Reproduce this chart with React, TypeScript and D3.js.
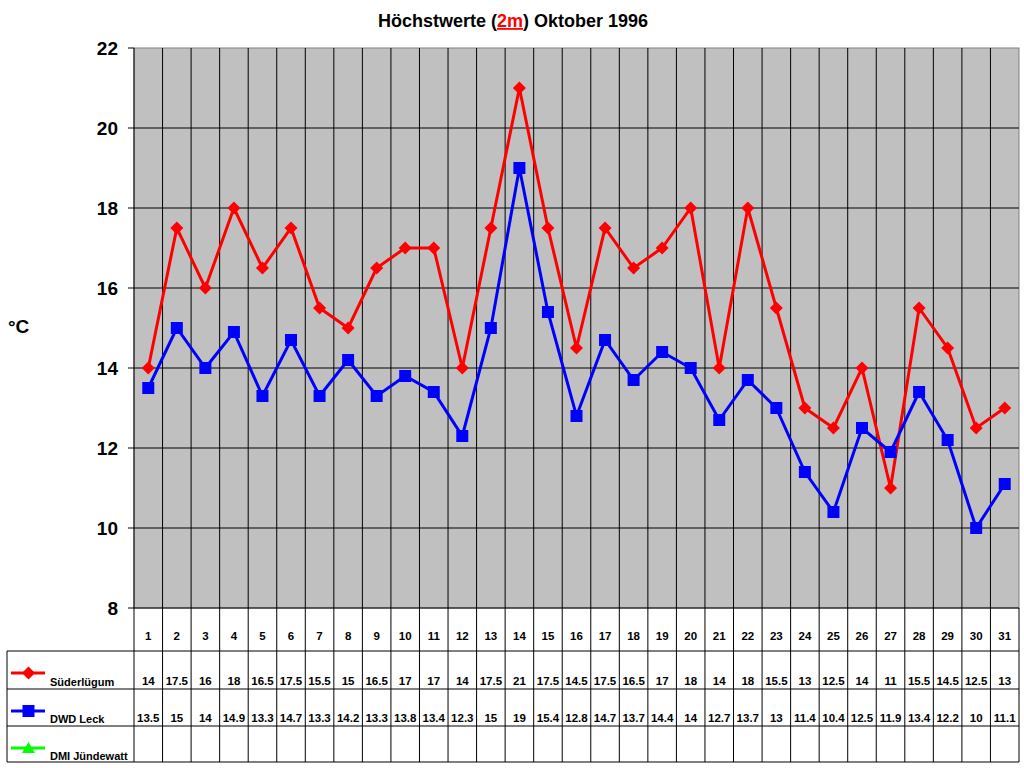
import React from "react";
import * as d3 from "d3";

const days = Array.from({ length: 31 }, (_, i) => String(i + 1));
const suederluegum = [14, 17.5, 16, 18, 16.5, 17.5, 15.5, 15, 16.5, 17, 17, 14, 17.5, 21, 17.5, 14.5, 17.5, 16.5, 17, 18, 14, 18, 15.5, 13, 12.5, 14, 11, 15.5, 14.5, 12.5, 13];
const dwdLeck = [13.5, 15, 14, 14.9, 13.3, 14.7, 13.3, 14.2, 13.3, 13.8, 13.4, 12.3, 15, 19, 15.4, 12.8, 14.7, 13.7, 14.4, 14, 12.7, 13.7, 13, 11.4, 10.4, 12.5, 11.9, 13.4, 12.2, 10, 11.1];
const dmiJuendewatt: (number | null)[] = Array.from({ length: 31 }, () => null);
const yTicks = [8, 10, 12, 14, 16, 18, 20, 22];

const FONT = "Arial, 'Liberation Sans', sans-serif";

export default function App() {
  const W = 1024, H = 768;
  const left = 134, right = 1019, top = 48, bottom = 608;
  const x = d3.scaleBand<string>().domain(days).range([left, right]);
  const y = d3.scaleLinear().domain([8, 22]).range([bottom, top]);
  const cx = (d: string) => (x(d) as number) + x.bandwidth() / 2;

  const line = d3
    .line<number>()
    .x((_, i) => cx(days[i]))
    .y((v) => y(v));

  const tableLeft = 7;
  const rowLines = [651, 689, 726, 762];
  const tableBottom = 762;

  const diamond = (px: number, py: number, r: number) =>
    `M${px},${py - r} L${px + r},${py} L${px},${py + r} L${px - r},${py} Z`;

  const series = [
    { name: "Süderlügum", values: suederluegum, color: "#ff0000", marker: "diamond", rowY: 651, baseline: 685 },
    { name: "DWD Leck", values: dwdLeck, color: "#0000ff", marker: "square", rowY: 689, baseline: 722 },
    { name: "DMI Jündewatt", values: dmiJuendewatt, color: "#00ff00", marker: "triangle", rowY: 726, baseline: 759 },
  ];

  const marker = (type: string, px: number, py: number, color: string, key: string) => {
    if (type === "diamond") return <path key={key} d={diamond(px, py, 6.5)} fill={color} />;
    if (type === "square") return <rect key={key} x={px - 6} y={py - 6} width={12} height={12} fill={color} />;
    return <path key={key} d={`M${px},${py - 6} L${px + 6.5},${py + 5} L${px - 6.5},${py + 5} Z`} fill={color} />;
  };

  const legendLineY = [673, 711, 748];

  return (
    <div style={{ position: "absolute", left: 0, top: 0 }}>
      <svg width={W} height={H} style={{ display: "block", background: "#fff" }} fontFamily={FONT}>
        {/* title */}
        <text x={513} y={27} textAnchor="middle" fontSize={18} fontWeight="bold" fill="#000">
          Höchstwerte (
          <tspan fill="#ff0000" textDecoration="underline">2m</tspan>
          ) Oktober 1996
        </text>

        {/* plot area */}
        <rect x={left} y={top} width={right - left} height={bottom - top} fill="#c0c0c0" stroke="#808080" strokeWidth={1} />

        {/* horizontal gridlines */}
        {yTicks.filter((t) => t !== 8 && t !== 22).map((t) => (
          <line key={"hg" + t} x1={left} x2={right} y1={y(t)} y2={y(t)} stroke="#000" strokeWidth={1} />
        ))}

        {/* vertical lines (plot + table) */}
        {days.slice(1).map((d) => (
          <line key={"vg" + d} x1={x(d)} x2={x(d)} y1={top} y2={tableBottom} stroke="#000" strokeWidth={1} />
        ))}
        <line x1={right} x2={right} y1={bottom} y2={tableBottom} stroke="#000" strokeWidth={1} />

        {/* axes */}
        <line x1={left} x2={left} y1={top} y2={tableBottom} stroke="#000" strokeWidth={1} />
        <line x1={left} x2={right} y1={bottom} y2={bottom} stroke="#000" strokeWidth={1} />
        {yTicks.map((t) => (
          <g key={"yt" + t}>
            <line x1={left - 6} x2={left} y1={y(t)} y2={y(t)} stroke="#000" strokeWidth={1} />
            <text x={118} y={y(t) + 7} textAnchor="end" fontSize={19} fontWeight="bold" fill="#000">
              {t}
            </text>
          </g>
        ))}
        <text x={8} y={333} fontSize={19} fontWeight="bold" fill="#000">°C</text>

        {/* table row lines */}
        {rowLines.map((ry) => (
          <line key={"rl" + ry} x1={tableLeft} x2={right} y1={ry} y2={ry} stroke="#000" strokeWidth={1} />
        ))}
        <line x1={tableLeft} x2={tableLeft} y1={651} y2={tableBottom} stroke="#000" strokeWidth={1} />

        {/* day labels */}
        {days.map((d) => (
          <text key={"dl" + d} x={cx(d)} y={640} textAnchor="middle" fontSize={11.5} fontWeight="bold" fill="#000">
            {d}
          </text>
        ))}

        {/* series lines + markers */}
        {series.map((s) => {
          const vals = s.values.filter((v) => v !== null) as number[];
          if (vals.length === 0) return null;
          return (
            <g key={"s" + s.name}>
              <path d={line(vals) as string} fill="none" stroke={s.color} strokeWidth={3} />
              {vals.map((v, i) => marker(s.marker, cx(days[i]), y(v), s.color, s.name + i))}
            </g>
          );
        })}

        {/* legend + table values */}
        {series.map((s, si) => (
          <g key={"lg" + s.name}>
            <line x1={11} x2={45} y1={legendLineY[si]} y2={legendLineY[si]} stroke={s.color} strokeWidth={3} />
            {marker(s.marker, 28.5, legendLineY[si], s.color, "lm" + si)}
            <text x={50} y={s.baseline + 1} fontSize={11} fontWeight="bold" fill="#000">
              {s.name}
            </text>
            {s.values.map((v, i) =>
              v === null ? null : (
                <text key={"tv" + si + i} x={cx(days[i])} y={s.baseline} textAnchor="middle" fontSize={11.5} fontWeight="bold" fill="#000">
                  {v}
                </text>
              )
            )}
          </g>
        ))}
      </svg>
    </div>
  );
}
